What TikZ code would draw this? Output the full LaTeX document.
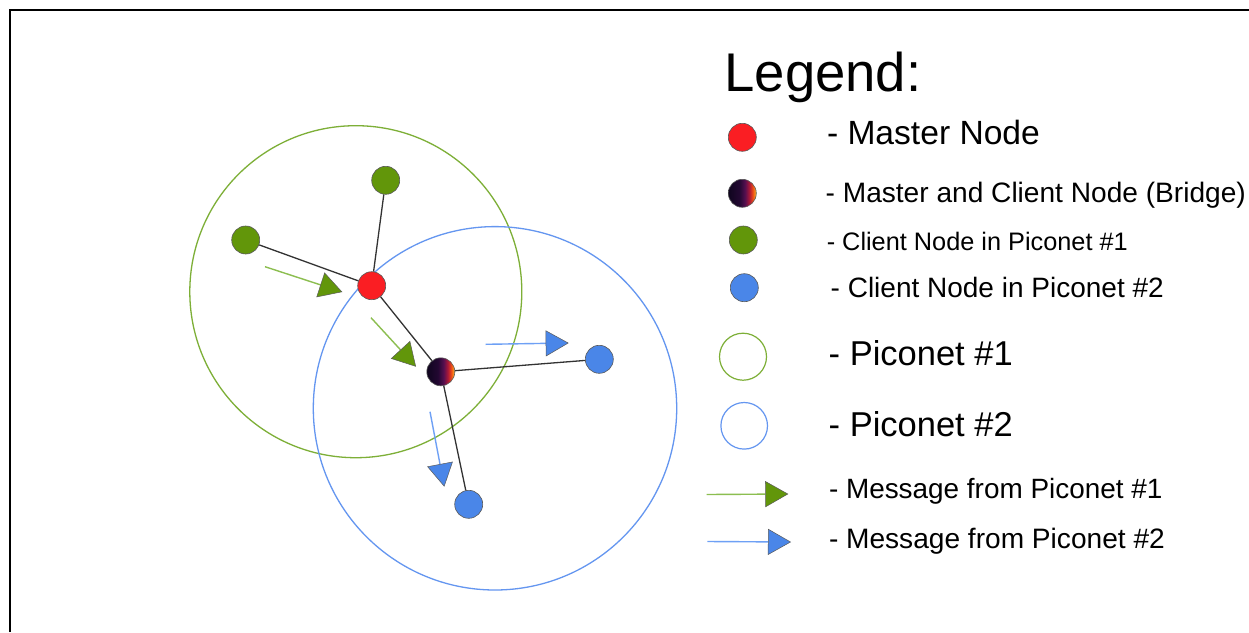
\documentclass[tikz,border=0pt]{standalone}
\usepackage{fontspec}
\setmainfont{Liberation Sans}
\usetikzlibrary{arrows.meta}
\definecolor{rednode}{RGB}{250,30,35}
\definecolor{greennode}{RGB}{98,150,10}
\definecolor{bluenode}{RGB}{74,134,232}
\definecolor{picoA}{RGB}{125,175,55}
\definecolor{picoB}{RGB}{100,150,240}
\definecolor{msgA}{RGB}{140,190,80}
\definecolor{msgB}{RGB}{110,160,245}
\definecolor{nodeedge}{RGB}{90,90,90}
\definecolor{infA}{RGB}{15,5,30}
\definecolor{infB}{RGB}{35,8,50}
\definecolor{infC}{RGB}{85,15,80}
\definecolor{infD}{RGB}{175,25,55}
\definecolor{infE}{RGB}{240,80,20}
\definecolor{infF}{RGB}{250,190,40}
\pgfdeclarehorizontalshading{inferno}{100bp}{color(0bp)=(infA); color(25bp)=(infA); color(45bp)=(infB); color(55bp)=(infC); color(63bp)=(infD); color(69bp)=(infE); color(75bp)=(infF); color(100bp)=(infF)}
\tikzset{
  dotnode/.style={circle, minimum size=28pt, inner sep=0pt, draw=nodeedge, line width=0.6pt},
  masternode/.style={dotnode, fill=rednode},
  clientA/.style={dotnode, fill=greennode},
  clientB/.style={dotnode, fill=bluenode},
  bridgenode/.style={dotnode, shading=inferno},
  link/.style={draw=black!80, line width=1.3pt},
  msgarrowA/.style={draw=msgA, line width=1.4pt, -{Triangle[length=23pt,width=26pt,fill=greennode,color=nodeedge,line width=0.5pt]}},
  msgarrowB/.style={draw=msgB, line width=1.4pt, -{Triangle[length=23pt,width=26pt,fill=bluenode,color=nodeedge,line width=0.5pt]}},
  legtext/.style={anchor=base west, inner sep=0pt, text=black}
}
\begin{document}
\begin{tikzpicture}[x=1pt,y=-1pt]
\useasboundingbox (0,0) rectangle (1249,632);
\fill[white] (0,0) rectangle (1249,632);
% frame
\draw[line width=2pt, black] (9.5,632) -- (9.5,9.5) -- (1249,9.5);
% piconet circles
\node[circle, draw=picoA, line width=1.3pt, minimum size=332pt, inner sep=0pt] (pico1) at (355.8,291.7) {};
\node[circle, draw=picoB, line width=1.3pt, minimum size=363.4pt, inner sep=0pt] (pico2) at (495,408.3) {};
% nodes
\node[clientA] (gtop) at (385.7,180.3) {};
\node[clientA] (gleft) at (245.7,240) {};
\node[masternode] (master) at (371.7,285.7) {};
\node[bridgenode] (bridge) at (440.8,371.8) {};
\node[clientB] (bright) at (599.3,359.3) {};
\node[clientB] (bbottom) at (468.7,504.3) {};
% links
\draw[link] (gtop) -- (master);
\draw[link] (gleft) -- (master);
\draw[link] (master) -- (bridge);
\draw[link] (bridge) -- (bright);
\draw[link] (bridge) -- (bbottom);
% messages
\coordinate (ga1) at (265,266.7); \coordinate (ga2) at (342.3,292);
\coordinate (gb1) at (371,317.7); \coordinate (gb2) at (416,366.7);
\coordinate (ba1) at (485.7,344.3); \coordinate (ba2) at (568.7,343);
\coordinate (bb1) at (430,411.7); \coordinate (bb2) at (444.3,486.7);
\draw[msgarrowA] (ga1) -- (ga2);
\draw[msgarrowA] (gb1) -- (gb2);
\draw[msgarrowB] (ba1) -- (ba2);
\draw[msgarrowB] (bb1) -- (bb2);
% legend
\node[legtext, font=\fontsize{54.5}{60}\selectfont] (legtitle) at (724.2,91.7) {Legend:};
\node[masternode] (lmaster) at (742.3,137.3) {};
\node[legtext, font=\fontsize{33.6}{38}\selectfont] (tmaster) at (826.8,144) {- Master Node};
\node[bridgenode] (lbridge) at (742.3,193.3) {};
\node[legtext, font=\fontsize{28.1}{32}\selectfont] (tbridge) at (825.5,202.3) {- Master and Client Node (Bridge)};
\node[clientA] (lclientA) at (743.3,240) {};
\node[legtext, font=\fontsize{25.3}{30}\selectfont] (tclientA) at (826.6,250) {- Client Node in Piconet \#1};
\node[clientB] (lclientB) at (744.3,287.7) {};
\node[legtext, font=\fontsize{28}{32}\selectfont] (tclientB) at (830.5,297.3) {- Client Node in Piconet \#2};
\node[circle, draw=picoA, line width=1.2pt, minimum size=47pt, inner sep=0pt] (lpicoA) at (743,356.7) {};
\node[legtext, font=\fontsize{34.5}{40}\selectfont] (tpicoA) at (828.5,365) {- Piconet \#1};
\node[circle, draw=picoB, line width=1.2pt, minimum size=46.6pt, inner sep=0pt] (lpicoB) at (744.2,425.8) {};
\node[legtext, font=\fontsize{34.5}{40}\selectfont] (tpicoB) at (828.5,436) {- Piconet \#2};
\coordinate (lma1) at (706.7,494.5); \coordinate (lma2) at (788.3,494);
\draw[msgarrowA] (lma1) -- (lma2);
\node[legtext, font=\fontsize{27.9}{32}\selectfont] (tmsgA) at (828.8,498.3) {- Message from Piconet \#1};
\coordinate (lmb1) at (707.3,541.5); \coordinate (lmb2) at (791,542);
\draw[msgarrowB] (lmb1) -- (lmb2);
\node[legtext, font=\fontsize{28.1}{32}\selectfont] (tmsgB) at (828.8,548.3) {- Message from Piconet \#2};
\end{tikzpicture}
\end{document}
